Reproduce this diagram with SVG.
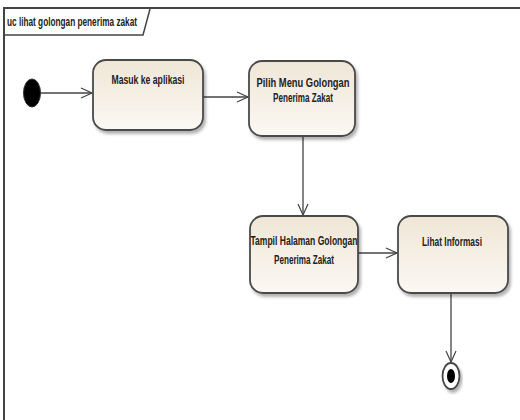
<svg xmlns="http://www.w3.org/2000/svg" width="520" height="420" viewBox="0 0 520 420">
<defs>
<linearGradient id="g" x1="0" y1="0" x2="0" y2="1">
<stop offset="0" stop-color="#efe6d6"/>
<stop offset="1" stop-color="#fbf8f3"/>
</linearGradient>
<filter id="sh" x="-10%" y="-10%" width="130%" height="130%">
<feDropShadow dx="2" dy="3" stdDeviation="1.5" flood-color="#000" flood-opacity="0.3"/>
</filter>
<marker id="arr" markerWidth="14" markerHeight="12" refX="12" refY="6" orient="auto" markerUnits="userSpaceOnUse">
<path d="M1,1 L12,6 L1,11" fill="none" stroke="#444" stroke-width="1.2"/>
</marker>
<style>
.act{fill:url(#g);stroke:#4a4a4a;stroke-width:1.8;filter:url(#sh)}
.t{font-family:"Liberation Sans",Arial,sans-serif;font-size:13px;fill:#222;text-anchor:middle;font-weight:bold}
.c{stroke:#444;stroke-width:1.3;fill:none;marker-end:url(#arr)}
</style>
</defs>
<rect x="0" y="0" width="520" height="420" fill="#fff"/>
<g id="frame">
<path d="M4,420 L4,8 L520,8" fill="none" stroke="#444" stroke-width="2"/>
<path d="M4,35 L143,35 L150,9" fill="none" stroke="#444" stroke-width="1.5"/>
<text x="72" y="26" class="t" style="font-size:12px" textLength="130" lengthAdjust="spacingAndGlyphs">uc lihat golongan penerima zakat</text>
</g>
<g id="connectors">
<line x1="38" y1="93" x2="92" y2="93" class="c"/>
<line x1="203" y1="97" x2="248" y2="97" class="c"/>
<line x1="303" y1="136" x2="303" y2="215" class="c"/>
<line x1="358" y1="253" x2="397" y2="253" class="c"/>
<line x1="451" y1="294" x2="451" y2="362" class="c"/>
</g>
<g id="start">
<ellipse cx="32" cy="93" rx="8.5" ry="14" fill="#000" stroke="#333"/>
</g>
<g id="masuk">
<rect x="93" y="60" width="110" height="70" rx="13" class="act"/>
<text x="148" y="84" class="t" textLength="73" lengthAdjust="spacingAndGlyphs">Masuk ke aplikasi</text>
</g>
<g id="pilih">
<rect x="249" y="61" width="106" height="75" rx="13" class="act"/>
<text x="303" y="87" class="t" textLength="93" lengthAdjust="spacingAndGlyphs">Pilih Menu Golongan</text>
<text x="303" y="102" class="t" textLength="60" lengthAdjust="spacingAndGlyphs">Penerima Zakat</text>
</g>
<g id="tampil">
<rect x="250" y="216" width="108" height="77" rx="13" class="act"/>
<text x="304" y="245" class="t" textLength="107" lengthAdjust="spacingAndGlyphs">Tampil Halaman Golongan</text>
<text x="304" y="264" class="t" textLength="60" lengthAdjust="spacingAndGlyphs">Penerima Zakat</text>
</g>
<g id="lihat">
<rect x="398" y="216" width="110" height="77" rx="13" class="act"/>
<text x="452" y="246" class="t" textLength="60" lengthAdjust="spacingAndGlyphs">Lihat Informasi</text>
</g>
<g id="end">
<ellipse cx="451" cy="376" rx="8.5" ry="13" fill="#fff" stroke="#444" stroke-width="1.8" filter="url(#sh)"/>
<ellipse cx="451" cy="376" rx="4" ry="7" fill="#000"/>
</g>
</svg>
